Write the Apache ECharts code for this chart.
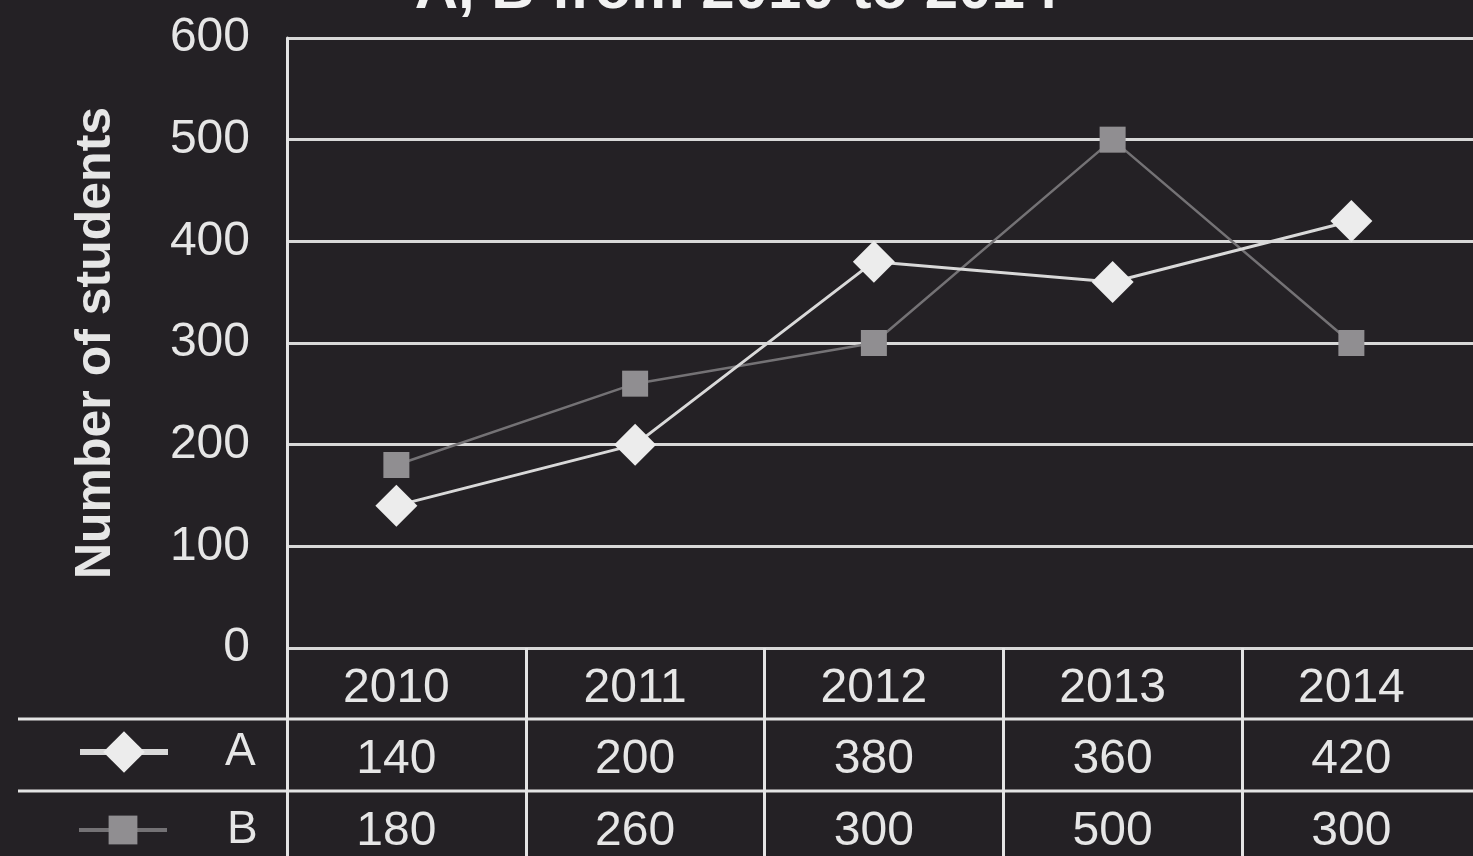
<!DOCTYPE html>
<html>
<head>
<meta charset="utf-8">
<script src="https://cdn.jsdelivr.net/npm/echarts@6/dist/echarts.min.js"></script>
<style>
html,body{margin:0;padding:0;background:#242125;}
#chart{width:1473px;height:856px;}
</style>
</head>
<body>
<div id="chart"></div>
<script>
const years = ['2010', '2011', '2012', '2013', '2014'];
const seriesA = [140, 200, 380, 360, 420];
const seriesB = [180, 260, 300, 500, 300];
const yTicks = { min: 0, max: 600, interval: 100 };
const titleText = 'A, B from 2010 to 2014';
const yName = 'Number of students';

const FONT = '"Liberation Sans", Arial, sans-serif';
const LINE = '#e4e4e4';
const TXT = '#e6e6e6';

const chart = echarts.init(document.getElementById('chart'), null, { renderer: 'canvas' });

const plotTop = 38, plotH = 610, colW = 238.75;

const tableLabel = (off, lh) => ({
  type: 'category', gridIndex: 0, position: 'bottom', offset: off,
  data: null,
  axisLine: { show: false }, axisTick: { show: false }, splitLine: { show: false },
  axisLabel: { show: true, margin: 6, lineHeight: lh, fontSize: 48, color: TXT, fontFamily: FONT, interval: 0 }
});

const x0 = tableLabel(0, 70); x0.data = years;
const x1 = tableLabel(70, 72); x1.data = seriesA.map(String);
const x2 = tableLabel(142, 72); x2.data = seriesB.map(String);

chart.setOption({
  backgroundColor: '#242125',
  animation: false,
  graphic: [
    { type: 'text', left: 'center', top: -39, style: { text: titleText, font: 'bold 60px ' + FONT, fill: '#f2f2f2' } },
    { type: 'line', shape: { x1: 18, y1: 719, x2: 1473, y2: 719 }, style: { stroke: LINE, lineWidth: 3 } },
    { type: 'line', shape: { x1: 18, y1: 791, x2: 1473, y2: 791 }, style: { stroke: LINE, lineWidth: 3 } }
  ],
  legend: [
    {
      data: [{ name: 'A', lineStyle: { width: 6 } }], left: 72, top: 724, itemWidth: 88, itemHeight: 52, selectedMode: false,
      textStyle: { fontSize: 46, color: TXT, fontFamily: FONT, padding: [0, 0, 0, 52] }
    },
    {
      data: [{ name: 'B', lineStyle: { width: 4 } }], left: 72, top: 802, itemWidth: 88, itemHeight: 36, selectedMode: false,
      textStyle: { fontSize: 46, color: TXT, fontFamily: FONT, padding: [0, 0, 0, 55] }
    }
  ],
  grid: [
    { left: 277, top: plotTop, width: colW * 5, height: plotH, outerBoundsMode: 'none', containLabel: false },
    { left: 287, top: plotTop, width: colW * 5, height: plotH, outerBoundsMode: 'none', containLabel: false }
  ],
  xAxis: [
    x0, x1, x2,
    {
      type: 'category', gridIndex: 1, position: 'bottom', data: years,
      axisLine: { show: false }, axisLabel: { show: false }, splitLine: { show: false },
      axisTick: { show: true, length: 210, alignWithLabel: false, lineStyle: { color: LINE, width: 3 } }
    }
  ],
  yAxis: [
    { type: 'value', gridIndex: 0, min: yTicks.min, max: yTicks.max, interval: yTicks.interval, show: false },
    {
      type: 'value', gridIndex: 1, min: yTicks.min, max: yTicks.max, interval: yTicks.interval,
      name: yName, nameLocation: 'middle', nameGap: 166, nameRotate: 90,
      nameTextStyle: { fontSize: 50, fontWeight: 'bold', color: TXT, fontFamily: FONT },
      axisLine: { show: true, lineStyle: { color: LINE, width: 3 } },
      axisTick: { show: false },
      axisLabel: { margin: 37, fontSize: 48, color: TXT, fontFamily: FONT },
      splitLine: { show: true, lineStyle: { color: '#d8d8d8', width: 3 } }
    }
  ],
  series: [
    {
      name: 'B', type: 'line', xAxisIndex: 0, yAxisIndex: 0, data: seriesB,
      symbol: 'rect', symbolSize: 26,
      lineStyle: { color: '#747275', width: 2.5 },
      itemStyle: { color: '#908e91' }, z: 3
    },
    {
      name: 'A', type: 'line', xAxisIndex: 0, yAxisIndex: 0, data: seriesA,
      symbol: 'diamond', symbolSize: 42,
      lineStyle: { color: '#d9d9d9', width: 3 },
      itemStyle: { color: '#ececec' }, z: 4
    }
  ]
});
</script>
</body>
</html>
